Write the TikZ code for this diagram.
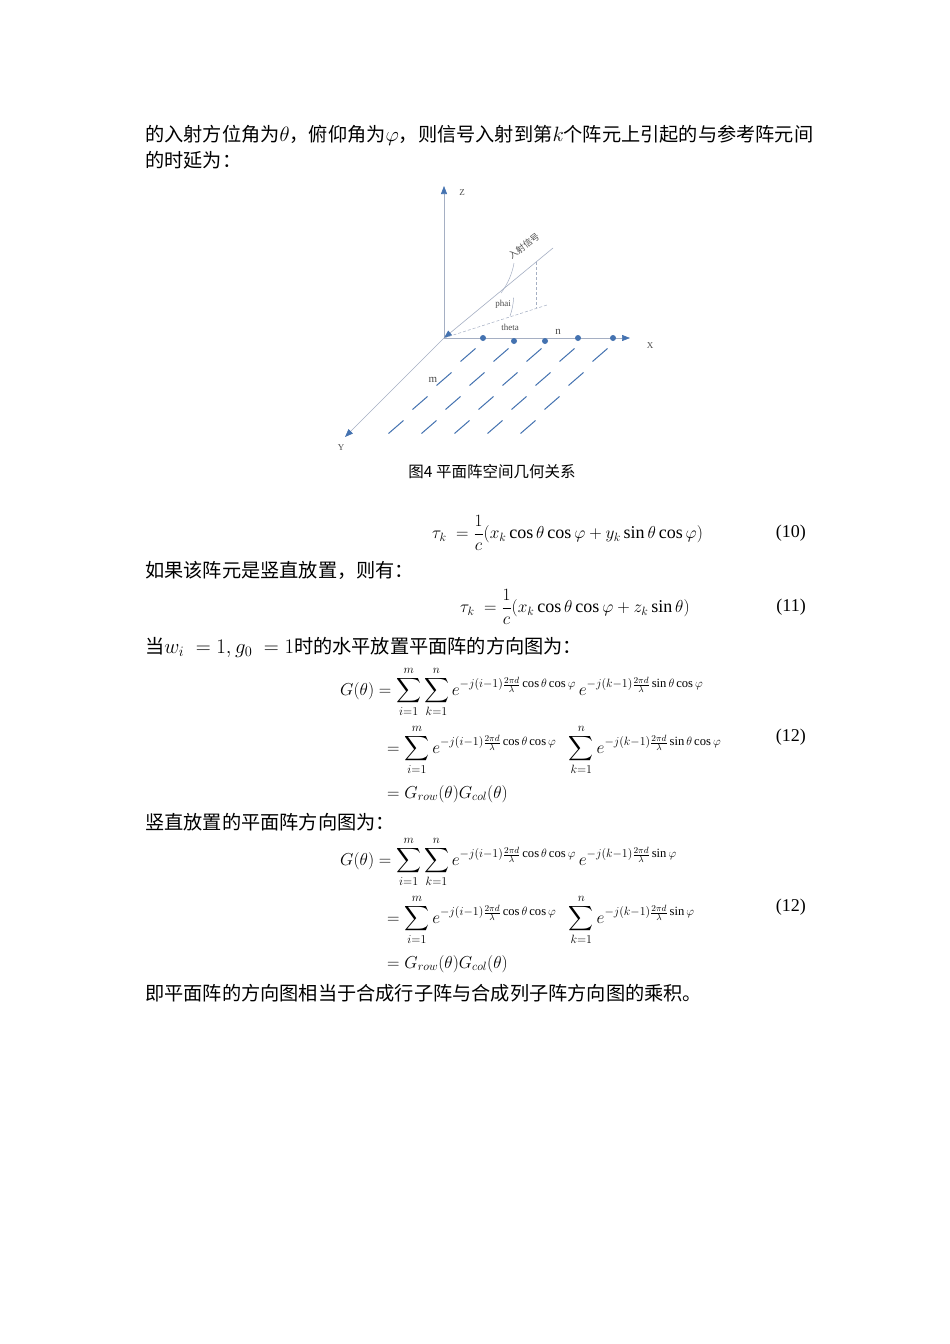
\documentclass[tikz,border=0pt]{standalone}
\usepackage{amsmath}
\usepackage{fontspec}
\setmainfont{Liberation Serif}
\newfontfamily\cjk{Noto Sans CJK SC}
\usetikzlibrary{arrows.meta}
\definecolor{ax}{RGB}{165,175,195}
\definecolor{bl}{RGB}{68,114,176}
\tikzset{
 txt/.style={anchor=west,inner sep=0,font=\fontsize{19.2}{22}\selectfont\cjk},
 eq/.style={anchor=west,inner sep=0,font=\fontsize{18}{20}\selectfont},
 axis/.style={draw=ax,line width=0.6pt,-{Triangle[length=8pt,width=6pt,fill=bl,color=bl]}},
 lab/.style={inner sep=0,font=\fontsize{9}{10}\selectfont,text=black!70},
 dot/.style={circle,fill=bl,inner sep=0,minimum size=6pt},
 dsh/.style={draw=bl,line width=1pt},
 thin/.style={draw=ax,line width=0.5pt,densely dashed}
}
\begin{document}
\begin{tikzpicture}[x=1pt,y=-1pt]
\useasboundingbox (0,0) rectangle (950,1344);
\fill[white] (0,0) rectangle (950,1344);
% text
\node[txt] (t1) at (145,135) {的入射方位角为$\theta$，俯仰角为$\varphi$，则信号入射到第$k$个阵元上引起的与参考阵元间};
\node[txt] (t2) at (145,160) {的时延为：};
% diagram
\coordinate (O) at (444,338);
\coordinate (Zt) at (444,186);
\coordinate (Xt) at (630,338);
\coordinate (Yt) at (345,437);
\draw[axis] (O) -- (Zt);
\draw[axis] (O) -- (Xt);
\draw[axis] (O) -- (Yt);
\node[lab] (zl) at (462,193) {Z};
\node[lab] (xl) at (650,346) {X};
\node[lab] (yl) at (341,448) {Y};
\coordinate (S) at (553,248);
\coordinate (P) at (536,262);
\coordinate (Q) at (536,308);
\coordinate (R) at (547,305);
\draw[axis] (S) -- (O);
\draw[thin] (P) -- (Q);
\draw[thin] (O) -- (R);
\node[lab,rotate=37,font=\fontsize{9}{10}\selectfont\cjk] (sig) at (524,246) {入射信号};
\draw[ax,line width=0.5pt] (501,293) arc[start angle=37,end angle=10,radius=70];
\draw[ax,line width=0.5pt] (510,316) arc[start angle=20,end angle=2,radius=60];
\node[lab] (ph) at (503,304) {phai};
\node[lab] (th) at (510,327) {theta};
\node[lab,font=\fontsize{11}{12}\selectfont] (nl) at (558,332) {n};
\node[lab,font=\fontsize{11}{12}\selectfont] (ml) at (433,380) {m};
\foreach \x/\y [count=\i] in {483/338,514/341,545/341,578/338,613/338}
  \node[dot] (d\i) at (\x,\y) {};
\foreach \r in {0,...,3}
 \foreach \c in {0,...,4}
  \draw[dsh] ({468+33*\c-24*\r-7.5},{355+24*\r+6.5}) -- ++(15,-13);
\node[inner sep=0,font=\fontsize{15.5}{18}\selectfont\cjk] (cap) at (492,472) {图4 平面阵空间几何关系};
% eq 10
\node[eq] (e10) at (432,533) {$\tau_k\;=\dfrac{1}{c}(x_k\cos\theta\cos\varphi+y_k\sin\theta\cos\varphi)$};
\node[eq,anchor=east] (n10) at (806,533) {(10)};
\node[txt] (t3) at (145,570) {如果该阵元是竖直放置，则有：};
\node[eq] (e11) at (460,607) {$\tau_k\;=\dfrac{1}{c}(x_k\cos\theta\cos\varphi+z_k\sin\theta)$};
\node[eq,anchor=east] (n11) at (806,607) {(11)};
\node[txt] (t4) at (145,647) {当$w_i\;=1,g_0\;=1$时的水平放置平面阵的方向图为：};
% eq 12a
\node[eq] (a1) at (340,692) {$G(\theta)=\displaystyle\sum_{i=1}^{m}\sum_{k=1}^{n}e^{-j(i-1)\frac{2\pi d}{\lambda}\cos\theta\cos\varphi}\,e^{-j(k-1)\frac{2\pi d}{\lambda}\sin\theta\cos\varphi}$};
\node[eq] (a2) at (387,750) {$=\displaystyle\sum_{i=1}^{m}e^{-j(i-1)\frac{2\pi d}{\lambda}\cos\theta\cos\varphi}\;\;\sum_{k=1}^{n}e^{-j(k-1)\frac{2\pi d}{\lambda}\sin\theta\cos\varphi}$};
\node[eq] (a3) at (387,794) {$=G_{row}(\theta)G_{col}(\theta)$};
\node[eq,anchor=east] (n12a) at (806,737) {(12)};
\node[txt] (t5) at (145,822) {竖直放置的平面阵方向图为：};
\node[eq] (b1) at (340,862) {$G(\theta)=\displaystyle\sum_{i=1}^{m}\sum_{k=1}^{n}e^{-j(i-1)\frac{2\pi d}{\lambda}\cos\theta\cos\varphi}\,e^{-j(k-1)\frac{2\pi d}{\lambda}\sin\varphi}$};
\node[eq] (b2) at (387,920) {$=\displaystyle\sum_{i=1}^{m}e^{-j(i-1)\frac{2\pi d}{\lambda}\cos\theta\cos\varphi}\;\;\sum_{k=1}^{n}e^{-j(k-1)\frac{2\pi d}{\lambda}\sin\varphi}$};
\node[eq] (b3) at (387,964) {$=G_{row}(\theta)G_{col}(\theta)$};
\node[eq,anchor=east] (n12b) at (806,907) {(12)};
\node[txt] (t6) at (145,993) {即平面阵的方向图相当于合成行子阵与合成列子阵方向图的乘积。};
\end{tikzpicture}
\end{document}
